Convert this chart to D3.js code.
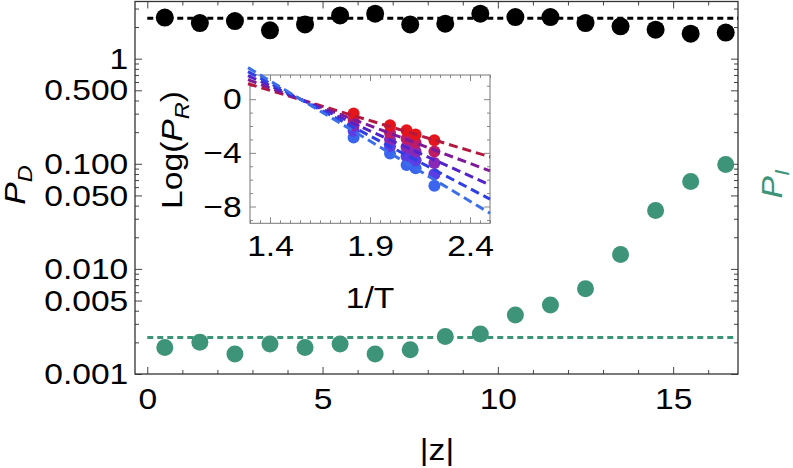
<!DOCTYPE html>
<html>
<head>
<meta charset="utf-8">
<script src="https://cdn.jsdelivr.net/npm/d3@7"></script>
<style>
  html, body { margin: 0; padding: 0; background: #fff; }
  svg { display: block; font-family: "Liberation Sans", Arial, sans-serif; }
</style>
</head>
<body>
<svg id="chart" width="793" height="468"></svg>
<script>
// main panel data
const zVals = [0.5, 1.5, 2.5, 3.5, 4.5, 5.5, 6.5, 7.5, 8.5, 9.5, 10.5, 11.5, 12.5, 13.5, 14.5, 15.5, 16.5];
const pD = [2.46, 2.18, 2.28, 1.86, 2.12, 2.58, 2.68, 2.12, 2.15, 2.68, 2.49, 2.49, 2.18, 2.03, 1.89, 1.73, 1.77];
const pI = [0.00179, 0.0020, 0.00155, 0.00193, 0.00179, 0.00193, 0.00155, 0.0017, 0.00227, 0.0024,
            0.00365, 0.00454, 0.00646, 0.0137, 0.0359, 0.0678, 0.0984];
const pDLevel = 2.42;
const pILevel = 0.00223;

const xMajor = [0, 5, 10, 15];
const xMinor = d3.range(0, 17);
const yMajor = [0.001, 0.005, 0.01, 0.05, 0.1, 0.5, 1];
const yLabels = ["0.001", "0.005", "0.010", "0.050", "0.100", "0.500", "1"];

// inset data: 1/T and Log(P_R), one row per series (red -> blue)
const invT = [1.818, 2.0, 2.083, 2.128, 2.222];
const logPR = [
  [-1.07, -1.94, -2.31, -2.63, -3.06],
  [-1.55, -2.50, -2.95, -3.25, -3.90],
  [-1.95, -3.00, -3.60, -3.90, -4.75],
  [-2.35, -3.50, -4.25, -4.55, -5.60],
  [-2.85, -4.05, -4.90, -5.15, -6.45]
];
const fitX = [1.29, 2.5];
const fitY = [[1.15, -4.3], [1.45, -5.35], [1.75, -6.4], [2.05, -7.45], [2.35, -8.5]];
const insetXMajor = [1.4, 1.9, 2.4];
const insetYMajor = [0, -4, -8];

const green = "#3d9479";
const dotColors = ["#e4161c", "#c01c66", "#8a28b6", "#5a3de4", "#3a66ef"];
const lineColors = ["#b3183e", "#7e1a98", "#5323c8", "#2f3fe4", "#3c6ee8"];

const svg = d3.select("#chart");
const FONT = 30, SX = 1.12;

// scales
const x = d3.scaleLinear().domain([-0.35, 16.85]).range([135, 738]);
const y = d3.scaleLog().domain([0.001, 3.5]).range([374, 1.5]);

function styleAxis(g, size) {
  g.attr("font-size", size).attr("font-family", "'Liberation Sans', Arial, sans-serif");
  g.select(".domain").remove();
  g.selectAll("line").attr("stroke", "#444").attr("stroke-width", 1);
  g.selectAll("text").attr("fill", "#000").attr("transform", `scale(${SX},1)`);
}

// frame ticks: major + minor on all four sides
const yMinor = [];
[0.001, 0.01, 0.1, 1].forEach(d => d3.range(2, 10).forEach(k => {
  const v = d * k;
  if (v <= 3.5 && !yMajor.some(m => Math.abs(m - v) < 1e-9)) yMinor.push(v);
}));

svg.append("g").attr("transform", "translate(0,374)")
  .call(d3.axisBottom(x).tickValues(xMajor).tickSizeInner(-7).tickSizeOuter(0).tickPadding(14))
  .call(g => styleAxis(g, FONT));
svg.append("g").attr("transform", "translate(0,374)")
  .call(d3.axisBottom(x).tickValues(xMinor.filter(v => !xMajor.includes(v))).tickSize(-4).tickFormat(""))
  .call(g => styleAxis(g, FONT));
svg.append("g").attr("transform", "translate(0,1.5)")
  .call(d3.axisTop(x).tickValues(xMajor).tickSize(-7).tickFormat(""))
  .call(g => styleAxis(g, FONT));
svg.append("g").attr("transform", "translate(0,1.5)")
  .call(d3.axisTop(x).tickValues(xMinor.filter(v => !xMajor.includes(v))).tickSize(-4).tickFormat(""))
  .call(g => styleAxis(g, FONT));

svg.append("g").attr("transform", "translate(135,0)")
  .call(d3.axisLeft(y).tickValues(yMajor).tickSizeInner(-7).tickSizeOuter(0).tickPadding(6)
    .tickFormat((d, i) => yLabels[i]))
  .call(g => styleAxis(g, FONT));
svg.append("g").attr("transform", "translate(135,0)")
  .call(d3.axisLeft(y).tickValues(yMinor).tickSize(-4).tickFormat(""))
  .call(g => styleAxis(g, FONT));
svg.append("g").attr("transform", "translate(738,0)")
  .call(d3.axisRight(y).tickValues(yMajor).tickSize(-7).tickFormat(""))
  .call(g => styleAxis(g, FONT));
svg.append("g").attr("transform", "translate(738,0)")
  .call(d3.axisRight(y).tickValues(yMinor).tickSize(-4).tickFormat(""))
  .call(g => styleAxis(g, FONT));

svg.append("rect")
  .attr("x", 135).attr("y", 1.5).attr("width", 738 - 135).attr("height", 374 - 1.5)
  .attr("fill", "none").attr("stroke", "#333").attr("stroke-width", 1.3);

// reference levels
svg.append("line")
  .attr("x1", x(0)).attr("x2", x(16.85)).attr("y1", y(pDLevel)).attr("y2", y(pDLevel))
  .attr("stroke", "#000").attr("stroke-width", 3).attr("stroke-dasharray", "6,4");
svg.append("line")
  .attr("x1", x(0)).attr("x2", x(16.85)).attr("y1", y(pILevel)).attr("y2", y(pILevel))
  .attr("stroke", green).attr("stroke-width", 3).attr("stroke-dasharray", "6,4");

// points
svg.append("g").selectAll("circle").data(zVals).join("circle")
  .attr("cx", d => x(d)).attr("cy", (d, i) => y(pD[i])).attr("r", 9).attr("fill", "#000");
svg.append("g").selectAll("circle").data(zVals).join("circle")
  .attr("cx", d => x(d)).attr("cy", (d, i) => y(pI[i])).attr("r", 8.5).attr("fill", green);

// axis labels
const lblFont = "'Liberation Sans', Arial, sans-serif";
const pdLabel = svg.append("text")
  .attr("transform", `translate(25,185) rotate(-90) scale(${SX},1)`)
  .attr("text-anchor", "middle").attr("font-size", FONT).attr("font-family", lblFont);
pdLabel.append("tspan").attr("font-style", "italic").text("P");
pdLabel.append("tspan").attr("font-style", "italic").attr("font-size", 21).attr("dy", 7).text("D");

const piLabel = svg.append("text")
  .attr("transform", `translate(782,184) rotate(-90) scale(${SX},1)`)
  .attr("text-anchor", "middle").attr("font-size", FONT).attr("font-family", lblFont).attr("fill", green);
piLabel.append("tspan").attr("font-style", "italic").text("P");
piLabel.append("tspan").attr("font-style", "italic").attr("font-size", 21).attr("dy", 7).text("I");

svg.append("text")
  .attr("transform", `translate(437,460) scale(${SX},1)`)
  .attr("text-anchor", "middle").attr("font-size", FONT).attr("font-family", lblFont).text("|z|");

// ---- inset ----
const ix = d3.scaleLinear().domain([1.3, 2.5]).range([250, 490]);
const iy = d3.scaleLinear().domain([-9.25, 1.8]).range([223.3, 75]);

svg.append("rect")
  .attr("x", 250).attr("y", 75).attr("width", 240).attr("height", 223.3 - 75)
  .attr("fill", "#fff");

const ixMinor = d3.range(1.3, 2.501, 0.05).map(v => +v.toFixed(2)).filter(v => !insetXMajor.includes(v));
const iyMinor = d3.range(-9, 2).filter(v => !insetYMajor.includes(v));

function insetAxis(g) {
  styleAxis(g, FONT);
  g.selectAll("line").attr("stroke", "#888");
}

svg.append("g").attr("transform", "translate(0,223.3)")
  .call(d3.axisBottom(ix).tickValues(insetXMajor).tickSizeInner(-6).tickSizeOuter(0).tickPadding(11)
    .tickFormat(d3.format(".1f")))
  .call(insetAxis);
svg.append("g").attr("transform", "translate(0,223.3)")
  .call(d3.axisBottom(ix).tickValues(ixMinor).tickSize(-3).tickFormat(""))
  .call(insetAxis);
svg.append("g").attr("transform", "translate(0,75)")
  .call(d3.axisTop(ix).tickValues(insetXMajor).tickSize(-6).tickFormat(""))
  .call(insetAxis);
svg.append("g").attr("transform", "translate(0,75)")
  .call(d3.axisTop(ix).tickValues(ixMinor).tickSize(-3).tickFormat(""))
  .call(insetAxis);
svg.append("g").attr("transform", "translate(250,0)")
  .call(d3.axisLeft(iy).tickValues(insetYMajor).tickSizeInner(-6).tickSizeOuter(0).tickPadding(7.5)
    .tickFormat(d => d === 0 ? "0" : "\u2212" + Math.abs(d)))
  .call(insetAxis);
svg.append("g").attr("transform", "translate(250,0)")
  .call(d3.axisLeft(iy).tickValues(iyMinor).tickSize(-3).tickFormat(""))
  .call(insetAxis);
svg.append("g").attr("transform", "translate(490,0)")
  .call(d3.axisRight(iy).tickValues(insetYMajor).tickSize(-6).tickFormat(""))
  .call(insetAxis);
svg.append("g").attr("transform", "translate(490,0)")
  .call(d3.axisRight(iy).tickValues(iyMinor).tickSize(-3).tickFormat(""))
  .call(insetAxis);

svg.append("rect")
  .attr("x", 250).attr("y", 75).attr("width", 240).attr("height", 223.3 - 75)
  .attr("fill", "none").attr("stroke", "#777").attr("stroke-width", 1);

// inset dots (blue first so red sits on top)
const dots = svg.append("g");
d3.range(logPR.length).reverse().forEach(s => {
  dots.append("g").selectAll("circle").data(invT).join("circle")
    .attr("cx", d => ix(d)).attr("cy", (d, i) => iy(logPR[s][i])).attr("r", 6)
    .attr("fill", dotColors[s]);
});

// inset fit lines
const fitLine = d3.line().x(d => ix(d[0])).y(d => iy(d[1]));
fitY.forEach((ends, s) => {
  svg.append("path")
    .attr("d", fitLine(fitX.map((xv, k) => [xv, ends[k]])))
    .attr("fill", "none").attr("stroke", lineColors[s]).attr("stroke-width", 3)
    .attr("stroke-dasharray", "9,5");
});

const prLabel = svg.append("text")
  .attr("transform", `translate(182,150) rotate(-90) scale(${SX},1)`)
  .attr("text-anchor", "middle").attr("font-size", FONT).attr("font-family", lblFont);
prLabel.append("tspan").text("Log(");
prLabel.append("tspan").attr("font-style", "italic").text("P");
prLabel.append("tspan").attr("font-style", "italic").attr("font-size", 21).attr("dy", 7).text("R");
prLabel.append("tspan").attr("dy", -7).text(")");

svg.append("text")
  .attr("transform", `translate(370,308) scale(${SX},1)`)
  .attr("text-anchor", "middle").attr("font-size", FONT).attr("font-family", lblFont).text("1/T");
</script>
</body>
</html>
